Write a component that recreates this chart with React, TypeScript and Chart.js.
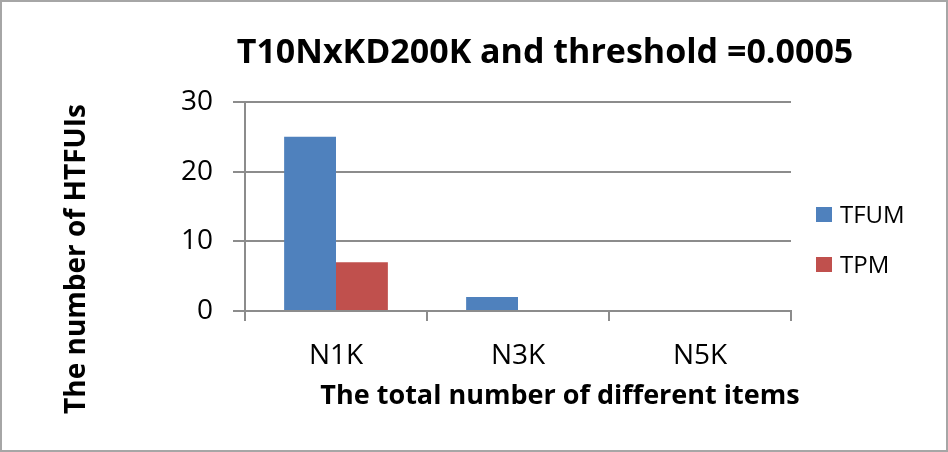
import React, { useEffect, useRef } from "react";
import { Chart, registerables } from "chart.js";

Chart.register(...registerables);

const categories = ["N1K", "N3K", "N5K"];
const tfumValues = [25, 2, 0];
const tpmValues = [7, 0, 0];
const seriesNames = ["TFUM", "TPM"];
const seriesColors = ["#4F81BD", "#C0504D"];
const yTicks = [0, 10, 20, 30];
const chartTitle = "T10NxKD200K and threshold =0.0005";
const xTitle = "The total number of different items";
const yTitle = "The number of HTFUIs";

const FONT = "'Open Sans', 'Noto Sans', sans-serif";

const decorPlugin = {
  id: "decor",
  afterDraw(chart: any) {
    const ctx = chart.ctx;
    const area = chart.chartArea;
    ctx.save();
    // outer border
    ctx.strokeStyle = "#a6a6a6";
    ctx.lineWidth = 2;
    ctx.strokeRect(1, 1, chart.width - 2, chart.height - 2);

    ctx.fillStyle = "#000";
    // main title
    ctx.font = `bold 34px ${FONT}`;
    ctx.textAlign = "center";
    ctx.textBaseline = "alphabetic";
    ctx.fillText(chartTitle, 545, 63);

    // x axis title
    ctx.font = `bold 27px ${FONT}`;
    ctx.fillText(xTitle, 560, area.bottom + 93);

    // y axis title
    ctx.save();
    ctx.translate(85, 259);
    ctx.rotate(-Math.PI / 2);
    ctx.font = `bold 28px ${FONT}`;
    ctx.textAlign = "center";
    ctx.fillText(yTitle, 0, 0);
    ctx.restore();

    // legend
    ctx.font = `24px ${FONT}`;
    ctx.textAlign = "left";
    ctx.textBaseline = "middle";
    chart.data.datasets.forEach((ds: any, i: number) => {
      const cy = 215 + i * 50;
      ctx.fillStyle = ds.backgroundColor;
      ctx.fillRect(816, cy - 8, 16, 15);
      ctx.fillStyle = "#000";
      ctx.fillText(ds.label, 840, cy + 1);
    });
    ctx.restore();
  },
};

export default function App() {
  const ref = useRef<HTMLCanvasElement | null>(null);
  useEffect(() => {
    document.body.style.margin = "0";
    if (!ref.current) return;
    const chart = new Chart(ref.current, {
      type: "bar",
      data: {
        labels: categories,
        datasets: seriesNames.map((name, i) => ({
          label: name,
          data: i === 0 ? tfumValues : tpmValues,
          backgroundColor: seriesColors[i],
          categoryPercentage: 0.57,
          barPercentage: 1,
        })),
      },
      options: {
        responsive: false,
        animation: false,
        devicePixelRatio: 1,
        layout: { padding: { left: 150, right: 157, top: 102, bottom: 81 } },
        plugins: {
          title: { display: false },
          legend: { display: false },
          tooltip: { enabled: false },
        },
        scales: {
          x: {
            afterFit(axis: any) {
              axis.height = 60;
            },
            grid: {
              display: true,
              drawOnChartArea: false,
              drawTicks: true,
              tickLength: 10,
              offset: true,
              color: "#8c8c8c",
              lineWidth: 2,
            },
            border: { display: true, color: "#8c8c8c", width: 2 },
            ticks: {
              color: "#000",
              font: { family: FONT, size: 28 },
              padding: 18,
            },
          },
          y: {
            min: 0,
            max: 30,
            afterFit(axis: any) {
              axis.width = 95;
            },
            afterBuildTicks(axis: any) {
              axis.ticks = yTicks.map((v) => ({ value: v }));
            },
            grid: {
              color: "#8c8c8c",
              lineWidth: 2,
              tickLength: 12,
            },
            border: { display: true, color: "#8c8c8c", width: 2 },
            ticks: {
              color: "#000",
              font: { family: FONT, size: 28 },
              padding: 20,
            },
          },
        },
      },
      plugins: [decorPlugin],
    });
    return () => chart.destroy();
  }, []);
  return (
    <div style={{ width: 948, height: 452 }}>
      <canvas ref={ref} width={948} height={452} style={{ display: "block" }} />
    </div>
  );
}
